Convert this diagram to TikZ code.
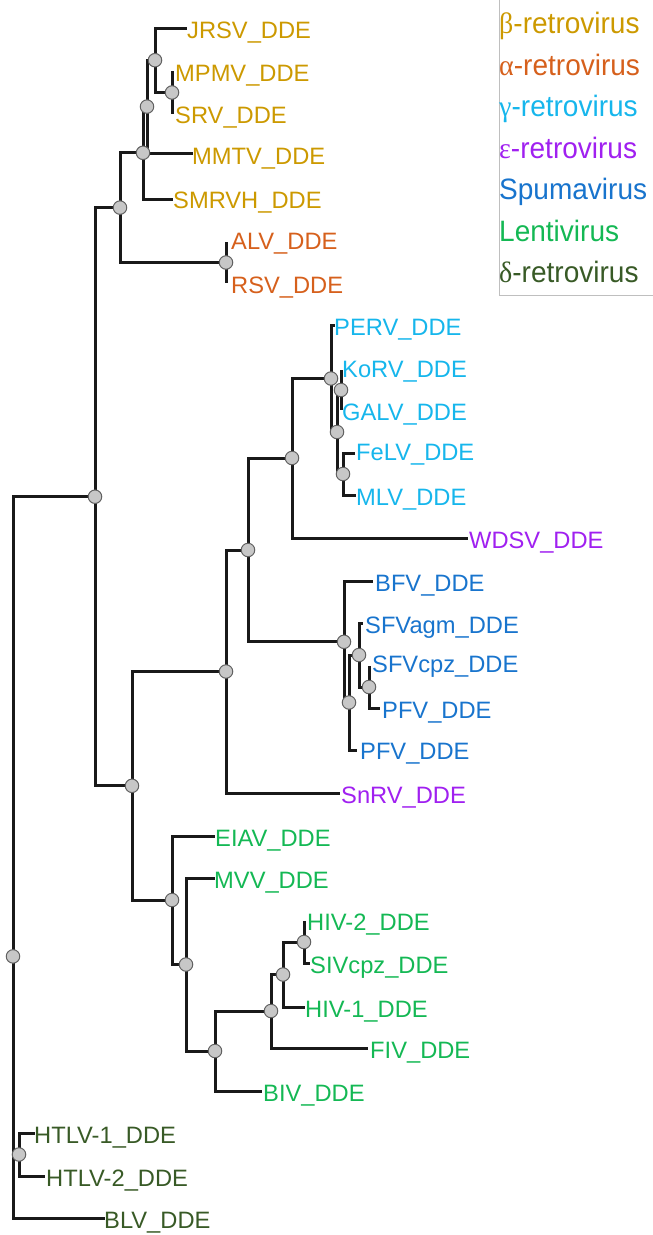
\documentclass[tikz,border=0pt]{standalone}
\usepackage{fontspec}
\newfontfamily\labfont{Liberation Sans}
\newfontfamily\keyfont[FakeStretch=0.95]{Liberation Sans}
\newfontfamily\grkfont[FakeStretch=0.95]{Liberation Serif}
\definecolor{cbeta}{RGB}{204,153,0}
\definecolor{calpha}{RGB}{214,96,28}
\definecolor{cgamma}{RGB}{22,182,236}
\definecolor{ceps}{RGB}{160,32,240}
\definecolor{cspuma}{RGB}{24,116,205}
\definecolor{clenti}{RGB}{20,184,84}
\definecolor{cdelta}{RGB}{56,90,38}
\begin{document}
\begin{tikzpicture}[x=1pt,y=-1pt,
  branch/.style={line width=3pt,draw=black!90,line join=miter},
  junction/.style={circle,fill=black!22,draw=black!62,line width=1pt,minimum size=13.5pt,inner sep=0pt},
  leaf/.style={anchor=base west,inner sep=0pt,font=\labfont\fontsize{23.7}{24}\selectfont},
  legendtxt/.style={anchor=base west,inner sep=0pt,font=\keyfont\fontsize{29.5}{30}\selectfont}]
\useasboundingbox (0,0) rectangle (653,1235);

% ---- tips (branch ends)
\coordinate (tJRSV) at (187,28);
\coordinate (tMPMV) at (172,71);
\coordinate (tSRV) at (172,114);
\coordinate (tMMTV) at (193,153);
\coordinate (tSMRVH) at (173,199);
\coordinate (tALV) at (226,242);
\coordinate (tRSV) at (226,283);
\coordinate (tPERV) at (335,325);
\coordinate (tKoRV) at (341,370);
\coordinate (tGALV) at (341,410);
\coordinate (tFeLV) at (355,453);
\coordinate (tMLV) at (356,495);
\coordinate (tWDSV) at (468,538);
\coordinate (tBFV) at (373,581);
\coordinate (tSFVagm) at (363,623);
\coordinate (tSFVcpz) at (369,666);
\coordinate (tPFVa) at (380,708);
\coordinate (tPFVb) at (357,750);
\coordinate (tSnRV) at (340,793);
\coordinate (tEIAV) at (215,836);
\coordinate (tMVV) at (215,878);
\coordinate (tHIVb) at (304,921);
\coordinate (tSIVcpz) at (310,963);
\coordinate (tHIVa) at (305,1007);
\coordinate (tFIV) at (368,1048);
\coordinate (tBIV) at (262,1091);
\coordinate (tHTLVa) at (35,1133);
\coordinate (tHTLVb) at (45,1176);
\coordinate (tBLV) at (105,1218);

% ---- internal nodes
\coordinate (nE) at (172,92.5);
\coordinate (nD) at (155,60.2);
\coordinate (nC) at (147,106.6);
\coordinate (nB) at (143,152.8);
\coordinate (nAR) at (226,262.5);
\coordinate (nA) at (120,207.6);
\coordinate (nX) at (341,390);
\coordinate (nY) at (343,474);
\coordinate (nW) at (337,432);
\coordinate (nV) at (331,378.5);
\coordinate (nU) at (292,458);
\coordinate (nT) at (369,687);
\coordinate (nS) at (359,655);
\coordinate (nQ) at (349,702.5);
\coordinate (nP) at (344,641.8);
\coordinate (nO) at (248,550);
\coordinate (nN) at (226,671.5);
\coordinate (nM) at (304,942);
\coordinate (nL) at (283,974.5);
\coordinate (nK) at (271,1011);
\coordinate (nJ) at (215,1051);
\coordinate (nI) at (186,964.5);
\coordinate (nH) at (172,900);
\coordinate (nF) at (132,785.8);
\coordinate (nR) at (95,496.7);
\coordinate (nHT) at (19,1154.5);
\coordinate (nRoot) at (13,956.4);

% ---- branches
\draw[branch] (nE) |- (tMPMV) (nE) |- (tSRV);
\draw[branch] (nD) |- (tJRSV) (nD) |- (nE);
\draw[branch] (nC) |- (nD) (nC) |- (tMMTV);
\draw[branch] (nB) |- (nC) (nB) |- (tSMRVH);
\draw[branch] (nAR) |- (tALV) (nAR) |- (tRSV);
\draw[branch] (nA) |- (nB) (nA) |- (nAR);
\draw[branch] (nX) |- (tKoRV) (nX) |- (tGALV);
\draw[branch] (nY) |- (tFeLV) (nY) |- (tMLV);
\draw[branch] (nW) |- (nX) (nW) |- (nY);
\draw[branch] (nV) |- (tPERV) (nV) |- (nW);
\draw[branch] (nU) |- (nV) (nU) |- (tWDSV);
\draw[branch] (nT) |- (tSFVcpz) (nT) |- (tPFVa);
\draw[branch] (nS) |- (tSFVagm) (nS) |- (nT);
\draw[branch] (nQ) |- (nS) (nQ) |- (tPFVb);
\draw[branch] (nP) |- (tBFV) (nP) |- (nQ);
\draw[branch] (nO) |- (nU) (nO) |- (nP);
\draw[branch] (nN) |- (nO) (nN) |- (tSnRV);
\draw[branch] (nM) |- (tHIVb) (nM) |- (tSIVcpz);
\draw[branch] (nL) |- (nM) (nL) |- (tHIVa);
\draw[branch] (nK) |- (nL) (nK) |- (tFIV);
\draw[branch] (nJ) |- (nK) (nJ) |- (tBIV);
\draw[branch] (nI) |- (tMVV) (nI) |- (nJ);
\draw[branch] (nH) |- (tEIAV) (nH) |- (nI);
\draw[branch] (nF) |- (nN) (nF) |- (nH);
\draw[branch] (nR) |- (nA) (nR) |- (nF);
\draw[branch] (nHT) |- (tHTLVa) (nHT) |- (tHTLVb);
\draw[branch] (nRoot) |- (nR) (nRoot) |- (nHT) (nRoot) |- (tBLV);

% ---- junction markers
\foreach \n in {nE,nD,nC,nB,nAR,nA,nX,nY,nW,nV,nU,nT,nS,nQ,nP,nO,nN,nM,nL,nK,nJ,nI,nH,nF,nR,nHT,nRoot}
  \node[junction] at (\n) {};

% ---- tip labels (baseline a little below the branch end)
\begin{scope}[text=cbeta]
\node[leaf] (lJRSV) at ([xshift=0pt,yshift=-10pt]tJRSV) {JRSV\_DDE};
\node[leaf] (lMPMV) at ([xshift=3pt,yshift=-10pt]tMPMV) {MPMV\_DDE};
\node[leaf] (lSRV) at ([xshift=3pt,yshift=-9pt]tSRV) {SRV\_DDE};
\node[leaf] (lMMTV) at ([xshift=-1pt,yshift=-11pt]tMMTV) {MMTV\_DDE};
\node[leaf] (lSMRVH) at ([xshift=0pt,yshift=-9pt]tSMRVH) {SMRVH\_DDE};
\end{scope}
\begin{scope}[text=calpha]
\node[leaf] (lALV) at ([xshift=5pt,yshift=-7pt]tALV) {ALV\_DDE};
\node[leaf] (lRSV) at ([xshift=5pt,yshift=-10pt]tRSV) {RSV\_DDE};
\end{scope}
\begin{scope}[text=cgamma]
\node[leaf] (lPERV) at ([xshift=-1pt,yshift=-10pt]tPERV) {PERV\_DDE};
\node[leaf] (lKoRV) at ([xshift=1pt,yshift=-7pt]tKoRV) {KoRV\_DDE};
\node[leaf] (lGALV) at ([xshift=1pt,yshift=-10pt]tGALV) {GALV\_DDE};
\node[leaf] (lFeLV) at ([xshift=1pt,yshift=-7pt]tFeLV) {FeLV\_DDE};
\node[leaf] (lMLV) at ([xshift=0pt,yshift=-10pt]tMLV) {MLV\_DDE};
\end{scope}
\begin{scope}[text=ceps]
\node[leaf] (lWDSV) at ([xshift=1pt,yshift=-10pt]tWDSV) {WDSV\_DDE};
\node[leaf] (lSnRV) at ([xshift=1pt,yshift=-10pt]tSnRV) {SnRV\_DDE};
\end{scope}
\begin{scope}[text=cspuma]
\node[leaf] (lBFV) at ([xshift=2pt,yshift=-10pt]tBFV) {BFV\_DDE};
\node[leaf] (lSFVagm) at ([xshift=2pt,yshift=-10pt]tSFVagm) {SFVagm\_DDE};
\node[leaf] (lSFVcpz) at ([xshift=3pt,yshift=-6pt]tSFVcpz) {SFVcpz\_DDE};
\node[leaf] (lPFVa) at ([xshift=2pt,yshift=-10pt]tPFVa) {PFV\_DDE};
\node[leaf] (lPFVb) at ([xshift=3pt,yshift=-9pt]tPFVb) {PFV\_DDE};
\end{scope}
\begin{scope}[text=clenti]
\node[leaf] (lEIAV) at ([xshift=0pt,yshift=-10pt]tEIAV) {EIAV\_DDE};
\node[leaf] (lMVV) at ([xshift=-1pt,yshift=-10pt]tMVV) {MVV\_DDE};
\node[leaf] (lHIVb) at ([xshift=3pt,yshift=-9pt]tHIVb) {HIV-2\_DDE};
\node[leaf] (lSIVcpz) at ([xshift=0pt,yshift=-10pt]tSIVcpz) {SIVcpz\_DDE};
\node[leaf] (lHIVa) at ([xshift=0pt,yshift=-10pt]tHIVa) {HIV-1\_DDE};
\node[leaf] (lFIV) at ([xshift=2pt,yshift=-10pt]tFIV) {FIV\_DDE};
\node[leaf] (lBIV) at ([xshift=1pt,yshift=-10pt]tBIV) {BIV\_DDE};
\end{scope}
\begin{scope}[text=cdelta]
\node[leaf] (lHTLVa) at ([xshift=-1pt,yshift=-10pt]tHTLVa) {HTLV-1\_DDE};
\node[leaf] (lHTLVb) at ([xshift=1pt,yshift=-10pt]tHTLVb) {HTLV-2\_DDE};
\node[leaf] (lBLV) at ([xshift=-1pt,yshift=-10pt]tBLV) {BLV\_DDE};
\end{scope}

% ---- legend
\coordinate (legTop) at (499,0);
\coordinate (legCorner) at (653,295);
\draw[black!25,line width=1pt] (legTop) |- (legCorner);
\node[legendtxt,text=cbeta] (kbeta) at (499,33.5) {{\grkfont β}-retrovirus};
\node[legendtxt,text=calpha] (kalpha) at (499,75) {{\grkfont α}-retrovirus};
\node[legendtxt,text=cgamma] (kgamma) at (499,116.5) {{\grkfont γ}-retrovirus};
\node[legendtxt,text=ceps] (keps) at (499,158) {{\grkfont ε}-retrovirus};
\node[legendtxt,text=cspuma] (kspuma) at (499,199.5) {Spumavirus};
\node[legendtxt,text=clenti] (klenti) at (499,241) {Lentivirus};
\node[legendtxt,text=cdelta] (kdelta) at (499,282.5) {{\grkfont δ}-retrovirus};
\end{tikzpicture}
\end{document}
